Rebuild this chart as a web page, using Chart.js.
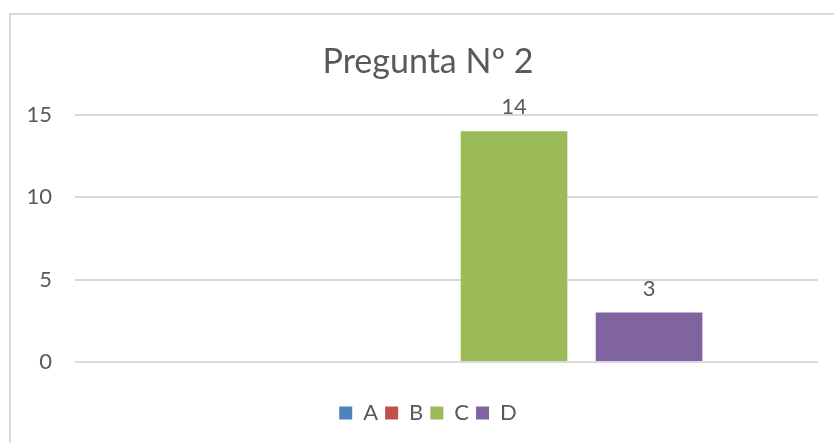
<!DOCTYPE html>
<html>
<head>
<meta charset="utf-8">
<script src="https://cdn.jsdelivr.net/npm/chart.js@4/dist/chart.umd.min.js"></script>
<style>
  html, body { margin: 0; padding: 0; background: #fff; overflow: hidden; }
  #frame { position: absolute; left: 9px; top: 13px; width: 823px; height: 428px;
           border-left: 2px solid #d9d9d9; border-top: 2px solid #d9d9d9; }
  #wrap { position: absolute; left: 0; top: 0; width: 834px; height: 443px; }
</style>
</head>
<body>
<div id="frame"></div>
<div id="wrap"><canvas id="graph_1"></canvas></div>
<script>
// valores
var categorias = [''];
var series = ['A', 'B', 'C', 'D'];
var valA = [null];
var valB = [null];
var valC = [14];
var valD = [3];
var colores = ['#4f81bd', '#c0504d', '#9bbb59', '#8064a2'];
var yTicks = [0, 5, 10, 15];

var textColor = '#595959';
var fontName = 'Lato, "Open Sans", sans-serif';

// etiquetas de datos encima de cada barra
var etiquetas = {
  id: 'etiquetas',
  afterDatasetsDraw: function(chart) {
    var ctx = chart.ctx;
    ctx.save();
    ctx.fillStyle = textColor;
    ctx.font = '22px ' + fontName;
    ctx.textAlign = 'center';
    ctx.textBaseline = 'alphabetic';
    chart.data.datasets.forEach(function(ds, i) {
      var meta = chart.getDatasetMeta(i);
      meta.data.forEach(function(bar, j) {
        var v = ds.data[j];
        if (v === null || v === undefined) return;
        ctx.fillText(String(v), bar.x, bar.y - 17);
      });
    });
    ctx.restore();
  }
};

var valores = [valA, valB, valC, valD];
var ctx = document.getElementById('graph_1');
var myChart = new Chart(ctx, {
  type: 'bar',
  data: {
    labels: categorias,
    datasets: series.map(function(s, i) {
      return {
        label: s,
        data: valores[i],
        backgroundColor: colores[i],
        borderWidth: 0,
        categoryPercentage: 0.727,
        barPercentage: 0.79
      };
    })
  },
  options: {
    responsive: true,
    maintainAspectRatio: false,
    animation: false,
    layout: { padding: { left: 26, right: 4, top: 30, bottom: 9 } },
    plugins: {
      title: {
        display: true,
        text: 'Pregunta Nº 2',
        color: textColor,
        font: { family: fontName, size: 34, weight: 'normal' },
        padding: { top: 12, bottom: 32 }
      },
      legend: {
        position: 'bottom',
        labels: {
          color: textColor,
          font: { family: fontName, size: 22 },
          boxWidth: 13,
          boxHeight: 13,
          padding: 7
        }
      },
      tooltip: { enabled: false }
    },
    scales: {
      x: {
        grid: { display: false, drawTicks: false },
        border: { display: false },
        ticks: { display: false },
        afterFit: function(axis) { axis.height = 33; }
      },
      y: {
        min: 0,
        max: 15,
        afterBuildTicks: function(axis) {
          axis.ticks = yTicks.map(function(v) { return { value: v }; });
        },
        afterFit: function(axis) { axis.width = 49; },
        grid: { color: '#d9d9d9', lineWidth: 2, drawTicks: false },
        border: { display: false },
        ticks: {
          color: textColor,
          font: { family: fontName, size: 22 },
          padding: 23
        }
      },
      // eje vacio solo para dejar margen a la derecha
      yDer: {
        position: 'right',
        grid: { display: false, drawTicks: false },
        border: { display: false },
        ticks: { display: false },
        afterFit: function(axis) { axis.width = 12; }
      }
    }
  },
  plugins: [etiquetas]
});
</script>
</body>
</html>
